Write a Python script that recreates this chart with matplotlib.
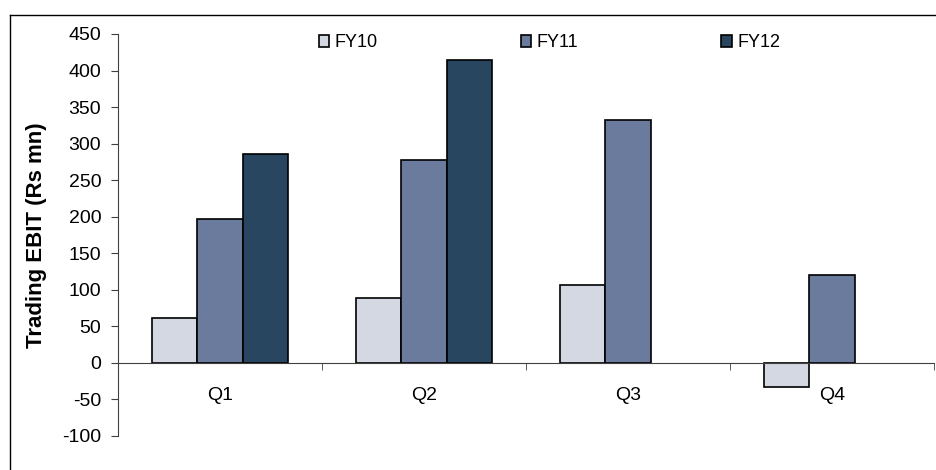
import numpy as np
import matplotlib.pyplot as plt
from matplotlib.lines import Line2D

plt.rcParams['font.family'] = ['Liberation Sans', 'DejaVu Sans']
plt.rcParams['axes.unicode_minus'] = False

quarters = ["Q1", "Q2", "Q3", "Q4"]
series_names = ["FY10", "FY11", "FY12"]
fy10 = [61, 89, 106, -33]
fy11 = [197, 278, 333, 120]
fy12 = [286, 414, np.nan, np.nan]
colores = ["#D4D8E3", "#6B7B9E", "#28465F"]

fig = plt.figure(figsize=(9.36, 4.70), dpi=100)
ax = fig.add_axes([0.126, 1 - 436/470, 0.998 - 0.126, (436 - 34)/470])

x = np.arange(len(quarters))
ancho = 0.222
for i, (nombre, vals) in enumerate(zip(series_names, [fy10, fy11, fy12])):
    ax.bar(x + (i - 1)*ancho, vals, ancho, color=colores[i], edgecolor="black",
           linewidth=1.2, label=nombre)

ax.set_xlim(-0.5, 3.5)
ax.set_ylim(-100, 450)
ax.set_yticks(range(-100, 451, 50))
ax.tick_params(axis="y", labelsize=14, length=5, direction="out", pad=7, color="#404040")

ax.spines["top"].set_visible(False)
ax.spines["right"].set_visible(False)
ax.spines["bottom"].set_position(("data", 0))
ax.spines["bottom"].set_color("#404040")
ax.spines["left"].set_color("#404040")

ax.set_xticks(x)
ax.set_xticklabels(quarters, fontsize=14)
ax.tick_params(axis="x", which="major", length=0, pad=17)
ax.set_xticks([0.5, 1.5, 2.5, 3.5], minor=True)
ax.tick_params(axis="x", which="minor", length=5, direction="out", color="#404040")

ax.set_ylabel("Trading EBIT (Rs mn)", fontsize=16, fontweight="bold", labelpad=11)

fig.legend(loc="upper center", bbox_to_anchor=(0.587, 1 - 27/470), ncol=3,
           frameon=False, fontsize=13, handlelength=0.6, handleheight=0.6,
           handletextpad=0.3, columnspacing=7.9, borderaxespad=0)

# marco exterior
fig.add_artist(Line2D([10/936, 10/936], [0, 1 - 15/470], color="black", lw=1))
fig.add_artist(Line2D([10/936, 1], [1 - 15/470, 1 - 15/470], color="black", lw=1))

fig.savefig("out.png", dpi=100)
